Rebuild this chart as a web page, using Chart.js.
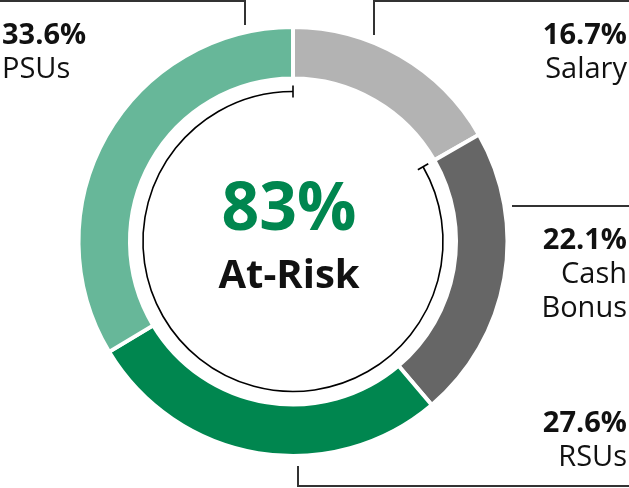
<!DOCTYPE html>
<html>
<head>
<meta charset="utf-8">
<script src="https://cdn.jsdelivr.net/npm/chart.js@4"></script>
<style>
  html, body { margin: 0; padding: 0; background: #fff; }
  #wrap { position: relative; width: 629px; height: 488px; }
</style>
</head>
<body>
<div id="wrap"><canvas id="payChart" width="629" height="488"></canvas></div>
<script>
const categories = ['Salary', 'Cash Bonus', 'RSUs', 'PSUs'];
const shares = [16.7, 22.1, 27.6, 33.6];
const colors = ['#b3b3b3', '#666666', '#00864f', '#67b799'];
const atRisk = '83%';

const FONT = '"Open Sans", "Noto Sans", sans-serif';

// thin arc for the at-risk portion, leader lines and labels
const overlay = {
  id: 'overlay',
  afterDraw(chart) {
    const ctx = chart.ctx;
    const meta = chart.getDatasetMeta(0);
    const cx = meta.data[0].x, cy = meta.data[0].y;
    const start = -Math.PI / 2 + shares[0] / 100 * Math.PI * 2;
    const end = Math.PI * 1.5;
    const r = 150;
    ctx.save();
    ctx.strokeStyle = '#000';
    ctx.lineWidth = 1.6;
    ctx.beginPath();
    ctx.arc(cx, cy, r, start, end);
    ctx.stroke();
    [start, end].forEach(a => {
      ctx.beginPath();
      ctx.moveTo(cx + Math.cos(a) * (r - 6), cy + Math.sin(a) * (r - 6));
      ctx.lineTo(cx + Math.cos(a) * (r + 6), cy + Math.sin(a) * (r + 6));
      ctx.stroke();
    });

    // leader lines
    ctx.strokeStyle = '#333';
    ctx.lineWidth = 2;
    ctx.beginPath();
    ctx.moveTo(0, 1); ctx.lineTo(245, 1); ctx.lineTo(245, 25);
    ctx.moveTo(374, 35); ctx.lineTo(374, 1); ctx.lineTo(629, 1);
    ctx.moveTo(512, 206); ctx.lineTo(629, 206);
    ctx.moveTo(298, 466); ctx.lineTo(298, 486); ctx.lineTo(629, 486);
    ctx.stroke();

    // labels
    ctx.fillStyle = '#111';
    ctx.textBaseline = 'alphabetic';
    const pct = v => v.toFixed(1) + '%';
    function lab(lines, x, y, align) {
      ctx.textAlign = align;
      lines.forEach((t, i) => {
        ctx.font = (i === 0 ? 'bold ' : '') + '29px ' + FONT;
        ctx.fillText(t, x, y + i * 34);
      });
    }
    lab([pct(shares[3]), 'PSUs'], 2, 44, 'left');
    lab([pct(shares[0]), 'Salary'], 627, 44, 'right');
    lab([pct(shares[1]), 'Cash', 'Bonus'], 627, 249, 'right');
    lab([pct(shares[2]), 'RSUs'], 627, 432, 'right');

    ctx.textAlign = 'center';
    ctx.fillStyle = '#00864f';
    ctx.font = 'bold 66px ' + FONT;
    ctx.fillText(atRisk, cx - 4, 230);
    ctx.fillStyle = '#111';
    ctx.font = 'bold 40px ' + FONT;
    ctx.fillText('At-Risk', cx - 4, 288);
    ctx.restore();
  }
};

new Chart(document.getElementById('payChart'), {
  type: 'doughnut',
  data: {
    labels: categories,
    datasets: [{
      data: shares,
      backgroundColor: colors,
      borderColor: '#fff',
      borderWidth: 4
    }]
  },
  options: {
    responsive: false,
    animation: false,
    cutout: '76%',
    layout: { padding: { left: 76, right: 119, top: 25, bottom: 30 } },
    plugins: { legend: { display: false }, tooltip: { enabled: false } }
  },
  plugins: [overlay]
});
</script>
</body>
</html>
